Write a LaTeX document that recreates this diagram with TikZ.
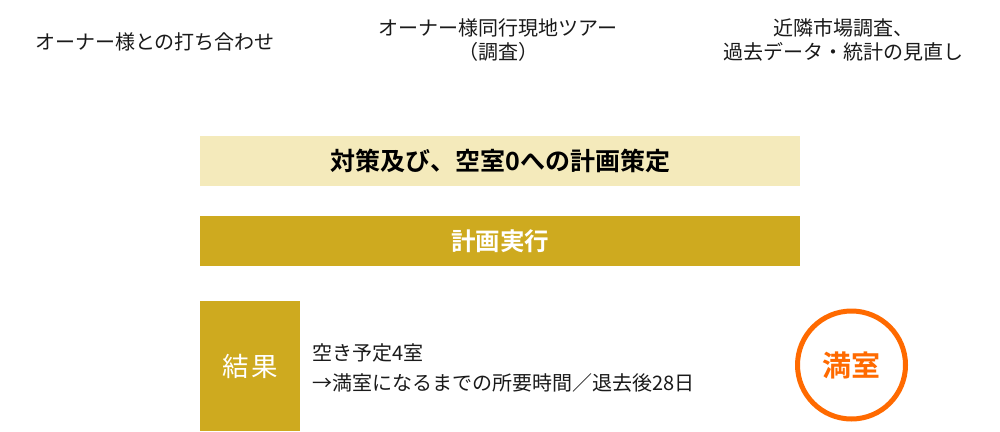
\documentclass[tikz,border=0pt]{standalone}
\usepackage{fontspec}
\setmainfont{Noto Sans CJK JP}
\newfontfamily\jpbold{Noto Sans CJK JP Bold}
\definecolor{lightgold}{HTML}{F4EABB}
\definecolor{gold}{HTML}{CEAA1F}
\definecolor{orng}{HTML}{FF6A00}
\definecolor{txt}{HTML}{1A1A1A}
\begin{document}
\begin{tikzpicture}[x=1pt,y=-1pt,
  toptext/.style={font=\fontsize{20}{24}\selectfont, text=txt, align=center, inner sep=0},
  bar/.style={minimum width=600pt, minimum height=50pt, inner sep=0, anchor=north west},
  bodytext/.style={font=\fontsize{20}{30}\selectfont, text=txt, align=left, inner sep=0, anchor=west}]
\useasboundingbox (0,0) rectangle (1000,431);
\fill[white] (0,0) rectangle (1000,431);
\node[toptext] (t1) at (155,42) {オーナー様との打ち合わせ};
\node[toptext] (t2) at (498,40) {オーナー様同行現地ツアー\\（調査）};
\node[toptext] (t3) at (843,40) {近隣市場調査、\\過去データ・統計の見直し};
\node[bar, fill=lightgold, font=\jpbold\fontsize{25}{28}\selectfont, text=black] (b1) at (200,136) {対策及び、空室0への計画策定};
\node[bar, fill=gold, font=\jpbold\fontsize{24.5}{28}\selectfont, text=white] (b2) at (200,216) {計画実行};
\node[fill=gold, minimum width=100pt, minimum height=130pt, inner sep=0, anchor=north west, text=white, font=\fontsize{26.5}{30}\selectfont] (res) at (200,301) {結\hspace{2pt}果};
\node[bodytext] (r1) at (312,353) {空き予定4室};
\node[bodytext] (r2) at (312,383) {→満室になるまでの所要時間／退去後28日};
\node[circle, draw=orng, line width=5pt, minimum size=108pt, inner sep=0, text=orng, font=\jpbold\fontsize{29}{32}\selectfont] (full) at (851.5,365) {満室};
\end{tikzpicture}
\end{document}
